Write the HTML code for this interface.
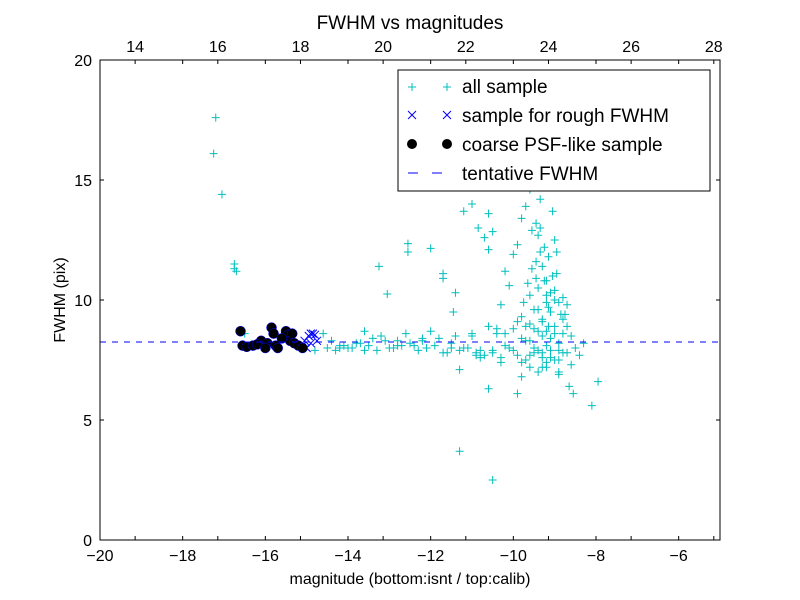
<!DOCTYPE html>
<html><head><meta charset="utf-8"><style>body{margin:0;background:#fff}svg{display:block;font-family:"Liberation Sans","DejaVu Sans",sans-serif}</style></head>
<body>
<svg id="chart" width="800" height="600"></svg>
<script>
const xTicks=[-20,-18,-16,-14,-12,-10,-8,-6];
const yTicks=[0,5,10,15,20];
const topTicks=[14,16,18,20,22,24,26,28];
const fwhm=8.25;
const allX=[-17.2,-17.25,-17.05,-16.75,-16.75,-16.7,-13.25,-13.05,-12.55,-12.55,-12.0,-11.7,-11.7,-11.4,-11.45,-11.2,-11.0,-10.85,-10.7,-10.6,-10.5,-10.6,-11.3,-10.5,-10.6,-9.9,-8.1,-7.95,-8.55,-8.65,-8.9,-9.2,
-10.2,-10.1,-10.0,-9.9,-9.8,-9.7,-9.6,-9.5,-9.45,-9.4,-9.35,-9.3,-9.25,-9.2,-9.15,-9.1,-9.05,-9.0,-8.95,-8.9,-8.85,-8.8,-8.7,-9.6,-9.5,-9.4,-9.3,-9.2,-9.1,-9.0,-9.55,-9.45,-9.35,-9.25,-9.7,-9.8,-10.3,-10.4,-9.9,-10.0,-9.75,-9.65,-9.3,-9.15,-9.05,-8.95,-8.75,-9.0,-9.4,-9.6,-9.2,-8.6,
-14.5,-14.3,-14.1,-13.9,-13.7,-13.5,-13.3,-13.1,-12.9,-12.7,-12.5,-12.3,-12.1,-11.9,-11.7,-11.5,-11.3,-11.1,-10.9,-10.7,-10.5,-10.3,-10.1,-9.9,-9.7,-9.5,-9.3,-9.1,-8.9,-8.7,-8.5,-8.3,-14.4,-14.2,-13.8,-13.4,-13.0,-12.6,-12.2,-11.8,-11.4,-11.0,-10.6,-10.2,-9.8,-9.4,-9.0,-8.6,-14.0,-13.6,-12.8,-12.0,-11.2,-10.4,-9.6,-8.8,-10.8,-11.6,-12.4,-13.2,-14.6,-16.5,-15.3,-8.8,-9.3,-9.8,-10.3,-10.8,-11.3,-8.4,-8.9,
-9.5,-9.3,-9.1,-8.9,-9.6,-9.4,-9.2,-9.0,-8.8,-9.7,-9.5,-9.3,-9.1,-8.9,-9.4,-9.2,-9.0,-9.8,-10.0,-10.2,-10.5,-10.9,-11.5,-12.8,-13.6,-14.2,-14.8,-12.2,-11.0,-9.6,-9.2,-8.7,-9.35,-9.15,-9.55,-9.45];
const allY=[17.6,16.1,14.4,11.5,11.3,11.2,11.4,10.25,12.35,12.0,12.15,11.1,10.9,10.3,9.5,13.7,14.0,13.0,12.6,12.1,12.85,13.6,3.7,2.5,6.3,6.1,5.6,6.6,6.1,6.4,6.9,7.2,
11.2,10.6,11.9,12.3,13.4,13.9,14.6,14.9,13.2,12.7,12.0,11.4,10.8,10.2,9.7,10.3,13.7,12.5,11.1,9.9,9.4,10.1,8.9,9.0,9.6,10.5,9.2,8.7,9.5,10.0,12.9,11.6,14.2,12.2,8.9,9.3,9.8,8.6,9.1,8.8,9.9,10.7,8.5,8.9,11.0,12.0,9.4,7.5,7.0,7.2,7.4,7.3,
8.0,7.9,8.1,8.0,8.2,8.1,7.9,8.3,8.0,8.1,8.2,7.9,8.0,8.1,7.8,8.2,7.9,8.0,7.8,7.7,7.9,7.6,8.0,7.7,7.5,7.8,7.6,7.9,7.5,7.8,8.0,8.2,8.3,8.1,8.2,8.4,8.0,8.6,8.3,8.4,8.5,8.6,8.9,8.6,8.4,8.7,8.9,8.5,8.0,8.7,8.3,8.7,8.0,8.8,8.3,8.6,7.9,7.8,8.1,8.5,8.6,8.6,8.3,7.8,7.2,6.8,7.4,7.6,7.1,7.7,7.0,
8.8,9.1,8.4,8.2,7.7,7.9,8.1,8.6,9.2,8.3,8.0,7.8,7.6,7.9,9.6,9.9,10.4,7.4,7.9,8.1,7.8,7.7,8.0,8.1,7.9,8.0,7.9,8.4,8.5,10.2,10.8,9.8,13.0,11.8,11.3,10.9];
const roughX=[-15.1,-15.0,-14.95,-14.9,-14.85,-14.8,-14.75,-15.05,-14.9];
const roughY=[8.1,8.0,8.5,8.6,8.6,8.55,8.3,8.3,8.2];
const psfX=[-16.6,-16.55,-16.45,-16.3,-16.1,-15.95,-15.85,-15.8,-15.75,-15.7,-15.5,-15.45,-15.4,-15.3,-15.2,-15.1,-16.2,-15.6,-16.0,-15.35];
const psfY=[8.7,8.1,8.05,8.1,8.3,8.2,8.85,8.6,8.1,8.0,8.7,8.55,8.3,8.2,8.1,8.0,8.15,8.4,8.0,8.6];
const L=100,R=720,T=60,B=540;
const xs=v=>L+(v+20)/15*(R-L), ys=v=>B-v/20*(B-T), xt=v=>L+(v-13.15)/15*(R-L);
const svg=document.getElementById('chart');const NS='http://www.w3.org/2000/svg';
function mk(t,a,p){const e=document.createElementNS(NS,t);for(const k in a)e.setAttribute(k,a[k]);(p||svg).appendChild(e);return e;}
function plus(x,y,c,g){mk('path',{d:`M${x-4},${y}h8M${x},${y-4}v8`,stroke:c,'stroke-width':1,fill:'none'},g);}
function cross(x,y,c,g){mk('path',{d:`M${x-4},${y-4}l8,8M${x-4},${y+4}l8,-8`,stroke:c,'stroke-width':1,fill:'none'},g);}
const gA=mk('g',{});
allX.forEach((v,i)=>plus(xs(v),ys(allY[i]),'#00bfbf',gA));
const gR=mk('g',{});
roughX.forEach((v,i)=>cross(xs(v),ys(roughY[i]),'#0000ff',gR));
const gP=mk('g',{});
psfX.forEach((v,i)=>mk('circle',{cx:xs(v),cy:ys(psfY[i]),r:5,fill:'#000',stroke:'#0000ff','stroke-width':0.5},gP));
const fl=mk('line',{x1:L,x2:R,y1:ys(fwhm),y2:ys(fwhm),stroke:'#0000ff','stroke-dasharray':'6,6','stroke-width':1});

const fr=mk('rect',{x:L,y:T,width:R-L,height:B-T,fill:'none',stroke:'#000'});

xTicks.forEach(v=>{const x=xs(v);mk('path',{d:`M${x},${B}v-4M${x},${T}v4`,stroke:'#000'});const t=mk('text',{x:x,y:B+21,'text-anchor':'middle','font-size':16});t.textContent='\u2212'.repeat(v<0?1:0)+Math.abs(v);});
topTicks.forEach(v=>{const x=xt(v);mk('path',{d:`M${x},${T}v4M${x},${B}v-4`,stroke:'#000'});const t=mk('text',{x:x,y:T-8,'text-anchor':'middle','font-size':16});t.textContent=v;});
yTicks.forEach(v=>{const y=ys(v);mk('path',{d:`M${L},${y}h4M${R},${y}h-4`,stroke:'#000'});const t=mk('text',{x:L-8,y:y+6,'text-anchor':'end','font-size':16});t.textContent=v;});
</script>
<svg width="800" height="600" style="position:absolute;left:0;top:0">
<text x="410" y="29" text-anchor="middle" font-size="19">FWHM vs magnitudes</text>
<text x="410" y="584" text-anchor="middle" font-size="16">magnitude (bottom:isnt / top:calib)</text>
<text transform="translate(65,300) rotate(-90)" text-anchor="middle" font-size="16">FWHM (pix)</text>
<g>
<rect x="398" y="70" width="312" height="121" fill="#fff" stroke="#000"/>
<g><path d="M408,87h8M412,83v8M443,87h8M447,83v8" stroke="#00bfbf"/><text x="462" y="93" font-size="19">all sample</text></g>
<g><path d="M408,111l8,8M408,119l8,-8M443,111l8,8M443,119l8,-8" stroke="#0000ff"/><text x="462" y="122" font-size="19">sample for rough FWHM</text></g>
<g><circle cx="412" cy="144" r="5"/><circle cx="447" cy="144" r="5"/><text x="462" y="151" font-size="19">coarse PSF-like sample</text></g>
<g><path d="M408,173h10M432,173h10" stroke="#0000ff"/><text x="462" y="180" font-size="19">tentative FWHM</text></g>
</g>
</svg>
</body></html>
